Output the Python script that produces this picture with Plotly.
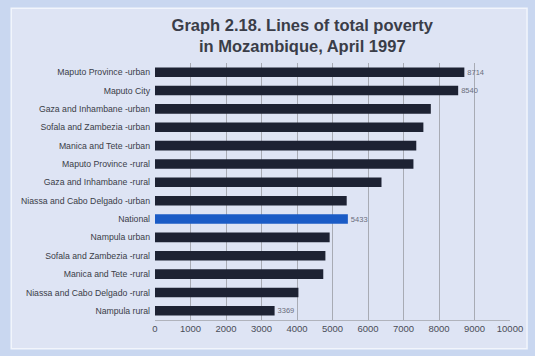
import plotly.graph_objects as go

# Poverty lines by region (meticais per person per day), April 1997
regions = [
    "Maputo Province -urban",
    "Maputo City",
    "Gaza and Inhambane -urban",
    "Sofala and Zambezia -urban",
    "Manica and Tete -urban",
    "Maputo Province -rural",
    "Gaza and Inhambane -rural",
    "Niassa and Cabo Delgado -urban",
    "National",
    "Nampula urban",
    "Sofala and Zambezia -rural",
    "Manica and Tete -rural",
    "Niassa and Cabo Delgado -rural",
    "Nampula rural",
]
values = [8714, 8540, 7770, 7560, 7360, 7280, 6380, 5400, 5433, 4920, 4800, 4740, 4040, 3369]
labelled = {"Maputo Province -urban", "Maputo City", "National", "Nampula rural"}
x_ticks = [0, 1000, 2000, 3000, 4000, 5000, 6000, 7000, 8000, 9000, 10000]

bar_colors = ["#1a5bc6" if r == "National" else "#1d2233" for r in regions]
bar_text = [str(v) if r in labelled else "" for r, v in zip(regions, values)]

fig = go.Figure(
    go.Bar(
        x=values,
        y=regions,
        orientation="h",
        marker=dict(color=bar_colors, line=dict(width=0)),
        width=0.52,
        text=bar_text,
        textposition="outside",
        cliponaxis=False,
        textfont=dict(size=7.5, color="#6a6e7c", family="Liberation Sans, Arial"),
    )
)

# Panel behind the chart with a thin light frame
fig.add_shape(
    type="rect", xref="paper", yref="paper",
    x0=-0.405, x1=1.048, y0=-0.112, y1=1.213,
    fillcolor="#dee4f4", line=dict(color="#f2f5fc", width=1.5), layer="below",
)

fig.update_layout(
    width=535,
    height=356,
    margin=dict(l=155, r=25, t=63, b=36),
    paper_bgcolor="#c9d7f0",
    plot_bgcolor="#f6f7fc",
    showlegend=False,
    bargap=0.48,
    title=dict(
        text="<b>Graph 2.18. Lines of total poverty<br>in Mozambique, April 1997</b>",
        x=0.565, xanchor="center", y=0.913, yanchor="top",
        font=dict(size=16.5, color="#3a3d48", family="Liberation Sans, Arial"),
    ),
    xaxis=dict(
        range=[0, 10000],
        tickvals=x_ticks,
        ticktext=[str(t) for t in x_ticks],
        showgrid=True,
        gridcolor="#a8abb4",
        gridwidth=1,
        zeroline=False,
        showline=True,
        linecolor="#b0b3bc",
        ticks="",
        tickfont=dict(size=9.5, color="#4a4d58", family="Liberation Sans, Arial"),
    ),
    yaxis=dict(
        autorange="reversed",
        showgrid=False,
        ticks="",
        ticklabelstandoff=4,
        tickfont=dict(size=8.7, color="#3a3d48", family="Liberation Sans, Arial"),
    ),
)

fig.write_html("out.html")
